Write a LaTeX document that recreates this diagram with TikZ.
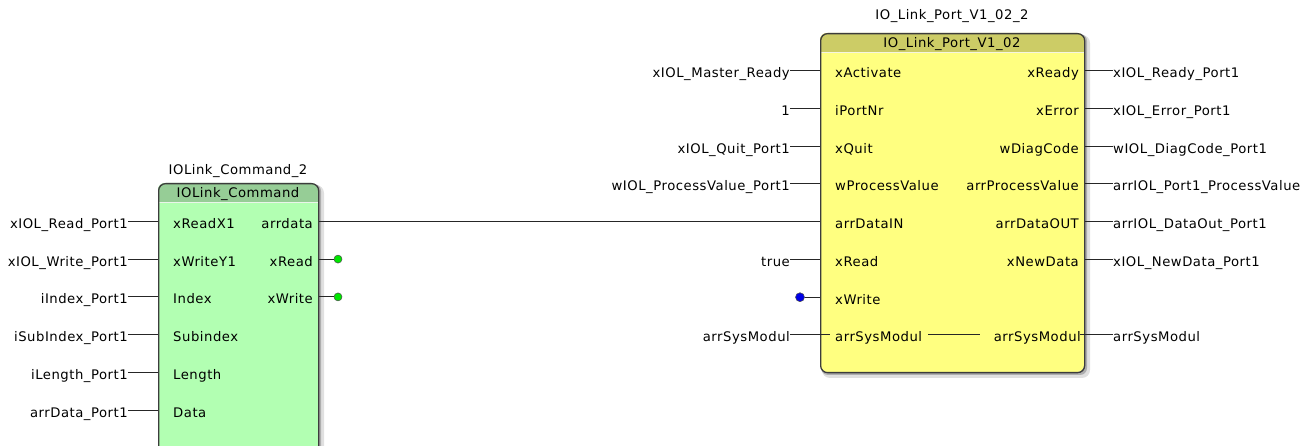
\documentclass[tikz,border=0pt]{standalone}
\usepackage{fontspec}
\setmainfont{DejaVu Sans}[LetterSpace=4]
\definecolor{gbody}{RGB}{178,255,178}
\definecolor{ghead}{RGB}{150,205,150}
\definecolor{ybody}{RGB}{255,255,128}
\definecolor{yhead}{RGB}{204,204,102}
\definecolor{edge}{RGB}{60,60,60}
\definecolor{dotgreen}{RGB}{0,230,0}
\definecolor{dotblue}{RGB}{0,0,230}
\begin{document}
\begin{tikzpicture}[x=1pt,y=-1pt,
  every node/.style={inner sep=0pt,font=\fontsize{13.2}{15}\selectfont},
  lin/.style={anchor=base east},
  lout/.style={anchor=base west},
  ttl/.style={anchor=base},
  wire/.style={draw=black!85,line width=0.8pt},
  boxframe/.style={draw=edge,line width=1.3pt,rounded corners=7pt,inner sep=0pt},
  pin/.style={circle,draw=black!70,line width=0.5pt,minimum size=8pt,inner sep=0pt}
]
\clip (0,0) rectangle (1302,446);
\fill[white] (0,0) rectangle (1302,446);

% ---------- left block: IOLink_Command ----------
\fill[black,opacity=0.12,rounded corners=8pt] (160,185) rectangle (324,480);
\fill[black,opacity=0.22,rounded corners=7pt] (159,184) rectangle (321,478);
\fill[gbody,rounded corners=7pt] (158,183) rectangle (318,476);
\begin{scope}
  \clip[rounded corners=7pt] (158,183) rectangle (318,476);
  \fill[ghead] (158,183) rectangle (318,202);
  \draw[white!80!ghead,line width=0.6pt] (158,202.5) -- (318,202.5);
\end{scope}
\node[boxframe,anchor=north west,minimum width=160pt,minimum height=293pt] (cmd) at (158,183) {};
\node[ttl] (cmdtitle) at (238,175) {IOLink\_Command\_2};
\node[ttl] (cmdtype) at (238,198) {IOLink\_Command};

% inputs
\node[lin] (ci1) at (128,228.3) {xIOL\_Read\_Port1};
\node[lin] (ci2) at (128,266.1) {xIOL\_Write\_Port1};
\node[lin] (ci3) at (128,303.9) {iIndex\_Port1};
\node[lin] (ci4) at (128,341.7) {iSubIndex\_Port1};
\node[lin] (ci5) at (128,379.5) {iLength\_Port1};
\node[lin] (ci6) at (128,417.3) {arrData\_Port1};
\node[lout] (cp1) at (173,228.3) {xReadX1};
\node[lout] (cp2) at (173,266.1) {xWriteY1};
\node[lout] (cp3) at (173,303.9) {Index};
\node[lout] (cp4) at (173,341.7) {Subindex};
\node[lout] (cp5) at (173,379.5) {Length};
\node[lout] (cp6) at (173,417.3) {Data};
\foreach \i in {1,...,6}{
  \draw[wire] ([yshift=7pt]ci\i.base east) -- ([yshift=7pt]ci\i.base east -| cmd.west);
}
% outputs
\node[lin] (co1) at (313,228.3) {arrdata};
\node[lin] (co2) at (313,266.1) {xRead};
\node[lin] (co3) at (313,303.9) {xWrite};
\node[pin,fill=dotgreen] (gd1) at (338,259.1) {};
\node[pin,fill=dotgreen] (gd2) at (338,296.9) {};
\draw[wire] (gd1.center -| cmd.east) -- (gd1.west);
\draw[wire] (gd2.center -| cmd.east) -- (gd2.west);

% ---------- right block: IO_Link_Port_V1_02 ----------
\fill[black,opacity=0.12,rounded corners=8pt] (822,35) rectangle (1090,378);
\fill[black,opacity=0.22,rounded corners=7pt] (821,34) rectangle (1087,375);
\fill[ybody,rounded corners=7pt] (820,33) rectangle (1084,372);
\begin{scope}
  \clip[rounded corners=7pt] (820,33) rectangle (1084,372);
  \fill[yhead] (820,33) rectangle (1084,52);
  \draw[white!80!yhead,line width=0.6pt] (820,52.5) -- (1084,52.5);
\end{scope}
\node[boxframe,anchor=north west,minimum width=264pt,minimum height=339pt] (port) at (820,33) {};
\node[ttl] (porttitle) at (952,20) {IO\_Link\_Port\_V1\_02\_2};
\node[ttl] (porttype) at (952,47.5) {IO\_Link\_Port\_V1\_02};

% port inputs (inside)
\node[lout] (pi1) at (835,77.7) {xActivate};
\node[lout] (pi2) at (835,115.4) {iPortNr};
\node[lout] (pi3) at (835,153.2) {xQuit};
\node[lout] (pi4) at (835,190.9) {wProcessValue};
\node[lout] (pi5) at (835,228.7) {arrDataIN};
\node[lout] (pi6) at (835,266.4) {xRead};
\node[lout] (pi7) at (835,304.2) {xWrite};
\node[lout] (pi8) at (835,341.9) {arrSysModul};
% port outputs (inside)
\node[lin] (po1) at (1079,77.7) {xReady};
\node[lin] (po2) at (1079,115.4) {xError};
\node[lin] (po3) at (1079,153.2) {wDiagCode};
\node[lin] (po4) at (1079,190.9) {arrProcessValue};
\node[lin] (po5) at (1079,228.7) {arrDataOUT};
\node[lin] (po6) at (1079,266.4) {xNewData};
\node[lin] (po8) at (1081,341.9) {arrSysModul};
\draw[wire] ([xshift=6pt,yshift=7pt]pi8.base east) -- ([xshift=-14pt,yshift=7pt]po8.base west);

% external inputs
\node[lin] (ei1) at (790,77.7) {xIOL\_Master\_Ready};
\node[lin] (ei2) at (790,115.4) {1};
\node[lin] (ei3) at (790,153.2) {xIOL\_Quit\_Port1};
\node[lin] (ei4) at (790,190.9) {wIOL\_ProcessValue\_Port1};
\node[lin] (ei6) at (790,266.4) {true};
\node[lin] (ei8) at (790,341.9) {arrSysModul};
\foreach \i in {1,2,3,4,6}{
  \draw[wire] ([yshift=7pt]ei\i.base east) -- ([yshift=7pt]ei\i.base east -| port.west);
}
\draw[wire] ([yshift=7pt]ei8.base east) -- ([xshift=-5pt,yshift=7pt]pi8.base west);
\node[pin,fill=dotblue,minimum size=9pt] (bd) at (800,297.2) {};
\draw[wire] (bd.east) -- (bd.center -| port.west);

% data link
\draw[wire] ([yshift=7pt]co1.base east -| cmd.east) -- ([yshift=7pt]co1.base east -| port.west);

% external outputs
\node[lout] (eo1) at (1113,77.7) {xIOL\_Ready\_Port1};
\node[lout] (eo2) at (1113,115.4) {xIOL\_Error\_Port1};
\node[lout] (eo3) at (1113,153.2) {wIOL\_DiagCode\_Port1};
\node[lout] (eo4) at (1113,190.9) {arrIOL\_Port1\_ProcessValue};
\node[lout] (eo5) at (1113,228.7) {arrIOL\_DataOut\_Port1};
\node[lout] (eo6) at (1113,266.4) {xIOL\_NewData\_Port1};
\node[lout] (eo8) at (1113,341.9) {arrSysModul};
\foreach \i in {1,...,6}{
  \draw[wire] ([yshift=7pt]eo\i.base west -| port.east) -- ([yshift=7pt]eo\i.base west);
}
\draw[wire] ([xshift=-1pt,yshift=7pt]po8.base east) -- ([yshift=7pt]eo8.base west);
\end{tikzpicture}
\end{document}
